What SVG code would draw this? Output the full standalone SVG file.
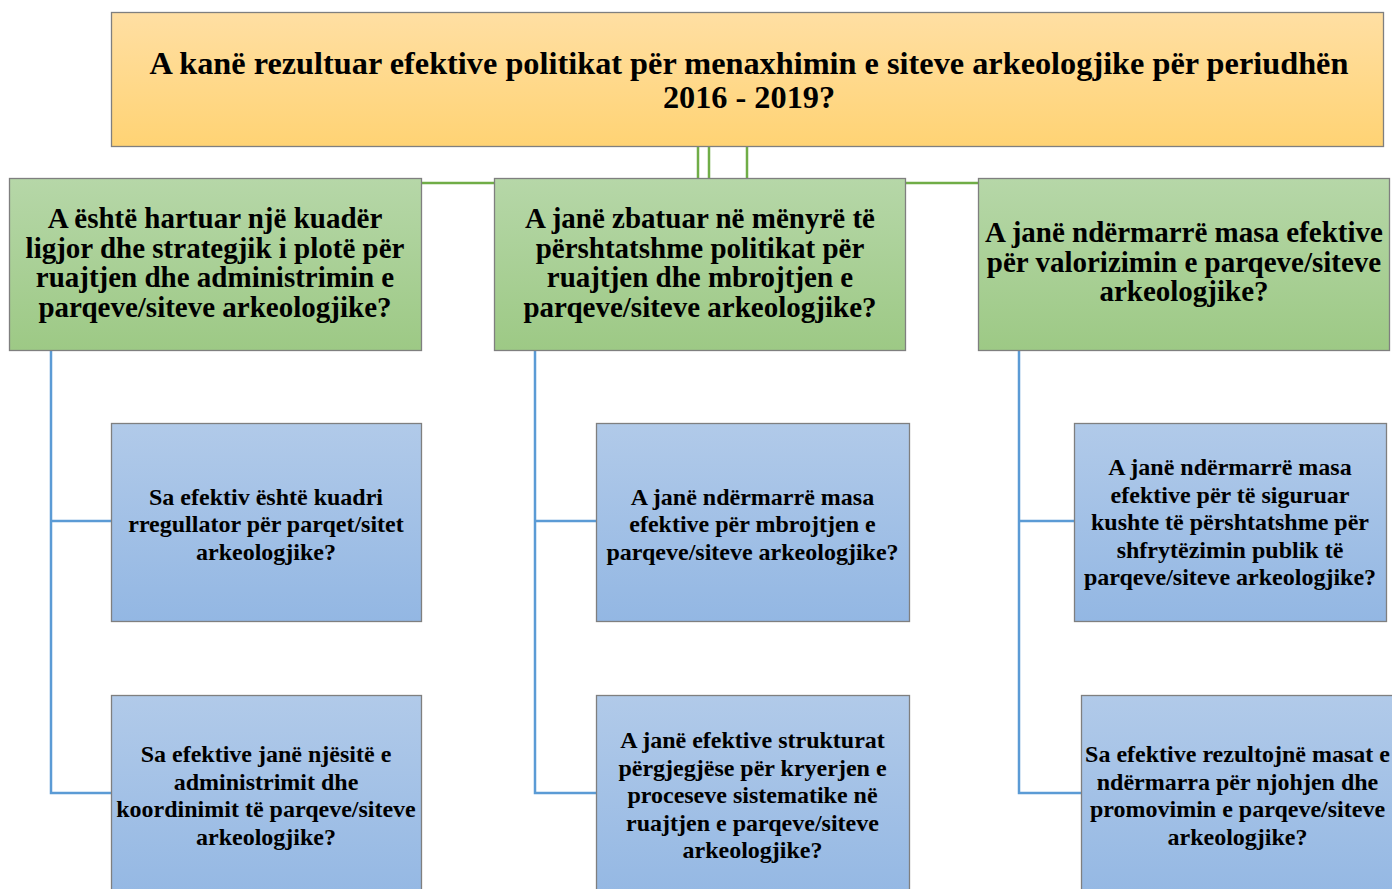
<svg xmlns="http://www.w3.org/2000/svg" width="1392" height="889" viewBox="0 0 1392 889">
<defs>
<linearGradient id="gOrange" x1="0" y1="0" x2="0" y2="1"><stop offset="0" stop-color="#FFDFA3"/><stop offset="1" stop-color="#FFD374"/></linearGradient>
<linearGradient id="gGreen" x1="0" y1="0" x2="0" y2="1"><stop offset="0" stop-color="#B6D7A8"/><stop offset="1" stop-color="#9DC985"/></linearGradient>
<linearGradient id="gBlue" x1="0" y1="0" x2="0" y2="1"><stop offset="0" stop-color="#B1CAE9"/><stop offset="1" stop-color="#93B7E3"/></linearGradient>
<style>
.box{stroke:#7F7F7F;stroke-width:1.3}
.or{fill:url(#gOrange)}
.gr{fill:url(#gGreen)}
.bl{fill:url(#gBlue)}
text{font-family:'Liberation Serif','Times New Roman',Times,serif;font-weight:700;fill:#000;text-anchor:middle}
.t1{font-size:32.3px}
.t2{font-size:29px}
.t3{font-size:24px}
.cg{stroke:#70AD47;stroke-width:2.5;fill:none}
.cb{stroke:#5B9BD5;stroke-width:2.5;fill:none}
</style>
</defs>
<g id="connectors">
<path class="cg" d="M698,147V178M709,147V178M747,147V178"/>
<path class="cg" d="M422,183H494M906,183H978"/>
<path class="cb" d="M51,351V793H111M51,521H111"/>
<path class="cb" d="M535,351V793H596M535,521H596"/>
<path class="cb" d="M1019,351V793H1081M1019,521H1074"/>
</g>
<g id="root">
<rect class="box or" x="111.5" y="12.5" width="1272" height="134"/>
<text class="t1" x="749" y="74">A kanë rezultuar efektive politikat për menaxhimin e  siteve arkeologjike për periudhën</text>
<text class="t1" x="749" y="108">2016 - 2019?</text>
</g>
<g id="n1">
<rect class="box gr" x="9.5" y="178.5" width="412" height="172"/>
<text class="t2" x="215" y="228">A është hartuar një kuadër</text>
<text class="t2" x="215" y="257.5">ligjor dhe strategjik i plotë për</text>
<text class="t2" x="215" y="287">ruajtjen dhe administrimin e</text>
<text class="t2" x="215" y="316.5">parqeve/siteve arkeologjike?</text>
</g>
<g id="n2">
<rect class="box gr" x="494.5" y="178.5" width="411" height="172"/>
<text class="t2" x="700" y="228">A janë zbatuar në mënyrë të</text>
<text class="t2" x="700" y="257.5">përshtatshme politikat për</text>
<text class="t2" x="700" y="287">ruajtjen dhe mbrojtjen e</text>
<text class="t2" x="700" y="316.5">parqeve/siteve arkeologjike?</text>
</g>
<g id="n3">
<rect class="box gr" x="978.5" y="178.5" width="411" height="172"/>
<text class="t2" x="1184" y="242">A janë ndërmarrë masa efektive</text>
<text class="t2" x="1184" y="271.5">për valorizimin e parqeve/siteve</text>
<text class="t2" x="1184" y="301">arkeologjike?</text>
</g>
<g id="n1a">
<rect class="box bl" x="111.5" y="423.5" width="310" height="198"/>
<text class="t3" x="266" y="504.5">Sa efektiv është kuadri</text>
<text class="t3" x="266" y="532">rregullator për parqet/sitet</text>
<text class="t3" x="266" y="559.5">arkeologjike?</text>
</g>
<g id="n1b">
<rect class="box bl" x="111.5" y="695.5" width="310" height="210"/>
<text class="t3" x="266" y="762">Sa efektive janë njësitë e</text>
<text class="t3" x="266" y="789.5">administrimit dhe</text>
<text class="t3" x="266" y="817">koordinimit të parqeve/siteve</text>
<text class="t3" x="266" y="844.5">arkeologjike?</text>
</g>
<g id="n2a">
<rect class="box bl" x="596.5" y="423.5" width="313" height="198"/>
<text class="t3" x="752.5" y="504.5">A janë ndërmarrë masa</text>
<text class="t3" x="752.5" y="532">efektive për mbrojtjen e</text>
<text class="t3" x="752.5" y="559.5">parqeve/siteve arkeologjike?</text>
</g>
<g id="n2b">
<rect class="box bl" x="596.5" y="695.5" width="313" height="210"/>
<text class="t3" x="752.5" y="748">A janë efektive strukturat</text>
<text class="t3" x="752.5" y="775.5">përgjegjëse për kryerjen e</text>
<text class="t3" x="752.5" y="803">proceseve sistematike në</text>
<text class="t3" x="752.5" y="830.5">ruajtjen e parqeve/siteve</text>
<text class="t3" x="752.5" y="858">arkeologjike?</text>
</g>
<g id="n3a">
<rect class="box bl" x="1074.5" y="423.5" width="312" height="198"/>
<text class="t3" x="1230" y="475">A janë ndërmarrë masa</text>
<text class="t3" x="1230" y="502.5">efektive për të siguruar</text>
<text class="t3" x="1230" y="530">kushte të përshtatshme për</text>
<text class="t3" x="1230" y="557.5">shfrytëzimin publik të</text>
<text class="t3" x="1230" y="585">parqeve/siteve arkeologjike?</text>
</g>
<g id="n3b">
<rect class="box bl" x="1081.5" y="695.5" width="320" height="210"/>
<text class="t3" x="1237.5" y="762">Sa efektive rezultojnë masat e</text>
<text class="t3" x="1237.5" y="789.5">ndërmarra për njohjen dhe</text>
<text class="t3" x="1237.5" y="817">promovimin e parqeve/siteve</text>
<text class="t3" x="1237.5" y="844.5">arkeologjike?</text>
</g>
</svg>
